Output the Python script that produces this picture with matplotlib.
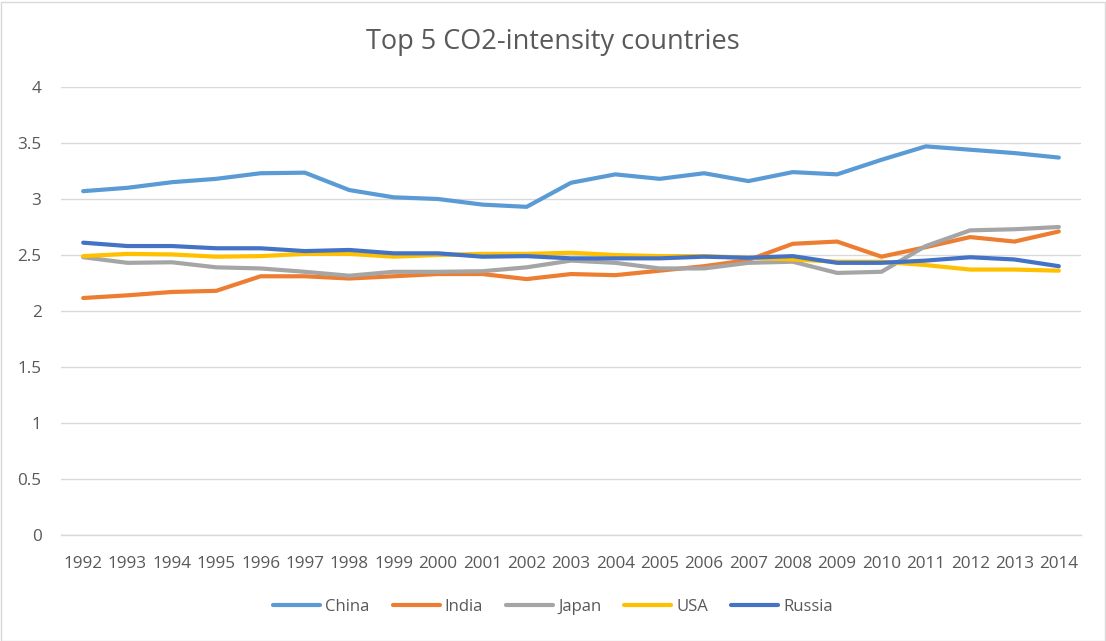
import matplotlib
matplotlib.use("Agg")
import matplotlib.pyplot as plt
from matplotlib.patches import Rectangle

plt.rcParams['font.family'] = ['Open Sans', 'DejaVu Sans']

years = list(range(1992, 2015))

china = [3.07, 3.10, 3.15, 3.18, 3.23, 3.235, 3.08, 3.015, 3.00, 2.95, 2.93, 3.145,
         3.22, 3.18, 3.23, 3.16, 3.24, 3.22, 3.35, 3.47, 3.44, 3.41, 3.37]
india = [2.116, 2.14, 2.17, 2.18, 2.31, 2.31, 2.29, 2.31, 2.33, 2.33, 2.285, 2.33,
         2.32, 2.36, 2.40, 2.455, 2.60, 2.62, 2.485, 2.57, 2.66, 2.62, 2.71]
japan = [2.48, 2.43, 2.435, 2.39, 2.38, 2.35, 2.315, 2.35, 2.35, 2.355, 2.39, 2.45,
         2.43, 2.38, 2.38, 2.43, 2.44, 2.34, 2.35, 2.58, 2.72, 2.73, 2.75]
usa = [2.49, 2.51, 2.505, 2.485, 2.49, 2.51, 2.51, 2.485, 2.50, 2.51, 2.51, 2.52,
       2.50, 2.49, 2.49, 2.475, 2.46, 2.44, 2.44, 2.41, 2.37, 2.37, 2.36]
russia = [2.61, 2.58, 2.58, 2.56, 2.56, 2.535, 2.545, 2.515, 2.515, 2.485, 2.49, 2.47,
          2.47, 2.47, 2.485, 2.475, 2.49, 2.43, 2.43, 2.45, 2.48, 2.46, 2.40]

series_names = ["China", "India", "Japan", "USA", "Russia"]
series_values = [china, india, japan, usa, russia]
series_colors = ["#5B9BD5", "#ED7D31", "#A5A5A5", "#FFC000", "#4472C4"]

y_ticks = [0, 0.5, 1, 1.5, 2, 2.5, 3, 3.5, 4]
y_tick_labels = ["0", "0.5", "1", "1.5", "2", "2.5", "3", "3.5", "4"]

W, H = 1106, 641
fig = plt.figure(figsize=(W / 100, H / 100), dpi=100)
fig.patch.set_facecolor("white")

# chart-area border
fig.patches.append(Rectangle((0.5 / W, 0.5 / H), 1 - 2 / W, 1 - 2 / H,
                             transform=fig.transFigure, fill=False,
                             edgecolor="#D9D9D9", linewidth=1.0))

left, right = 61 / W, 1081 / W
bottom, top = 1 - 535 / H, 1 - 87 / H
ax = fig.add_axes([left, bottom, right - left, top - bottom])

for name, vals, col in zip(series_names, series_values, series_colors):
    ax.plot(years, vals, color=col, linewidth=3.0, label=name,
            solid_capstyle="round", solid_joinstyle="round")

ax.set_xlim(years[0] - 0.5, years[-1] + 0.5)
ax.set_ylim(0, 4)
ax.set_yticks(y_ticks)
ax.set_yticklabels(y_tick_labels)
ax.set_xticks(years)
ax.set_xticklabels([str(y) for y in years])

ax.grid(axis="y", color="#D9D9D9", linewidth=1.0)
ax.set_axisbelow(True)
for s in ["top", "right", "left"]:
    ax.spines[s].set_visible(False)
ax.spines["bottom"].set_color("#D9D9D9")
ax.spines["bottom"].set_linewidth(1.0)
ax.tick_params(axis="both", length=0, labelsize=12.3, colors="#595959")
ax.tick_params(axis="y", pad=14)
ax.tick_params(axis="x", pad=15)

fig.text(0.5, 1 - 49.5 / H, "Top 5 CO2-intensity countries", ha="center",
         va="baseline", fontsize=19.5, color="#595959")

fig.legend(loc="center", bbox_to_anchor=(0.5, 1 - 607 / H), ncol=5, frameon=False,
           fontsize=12, labelcolor="#595959", handlelength=2.8, handletextpad=0.3,
           columnspacing=1.4)

fig.savefig("out.png", dpi=100)
